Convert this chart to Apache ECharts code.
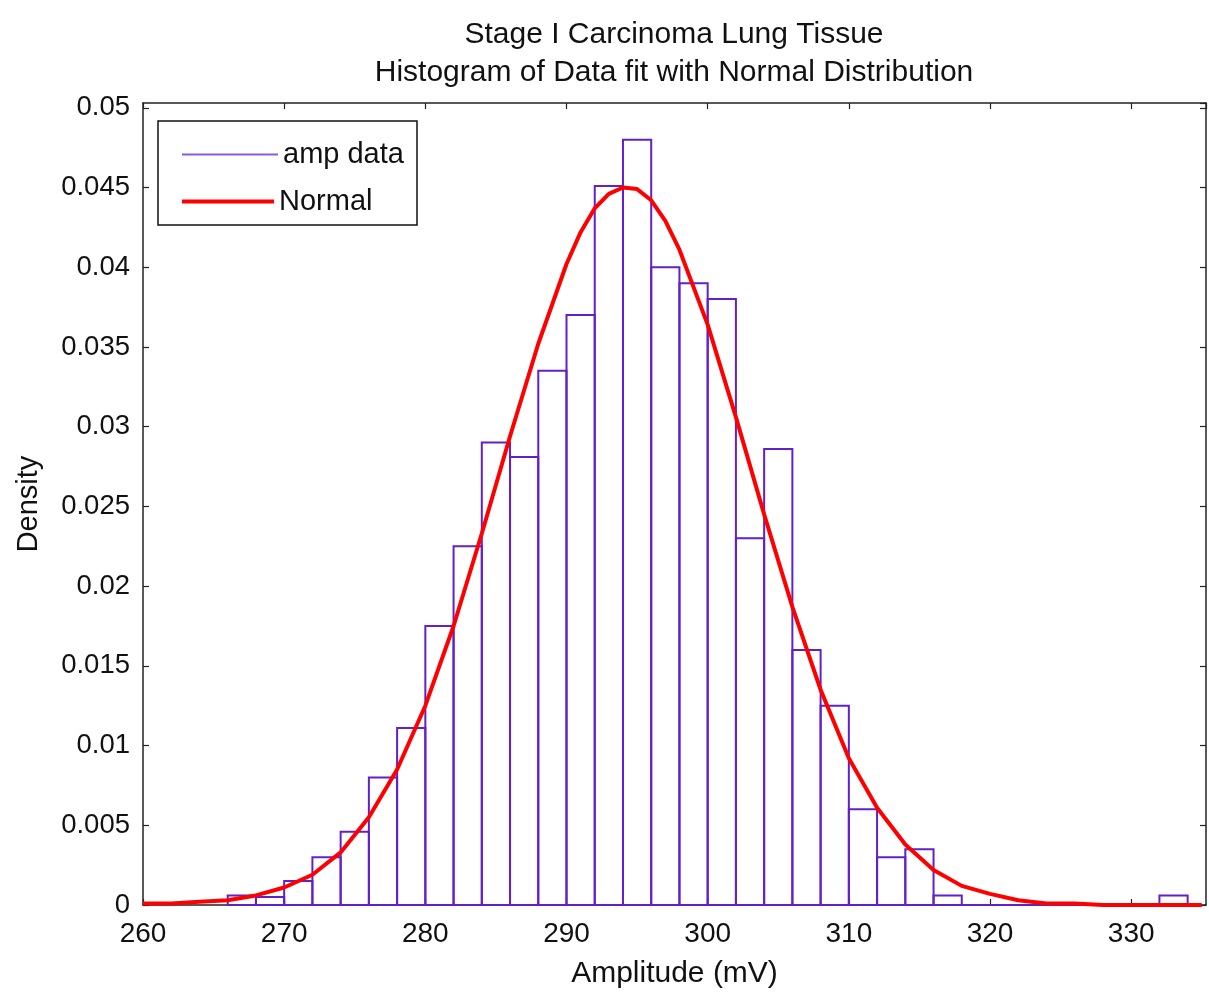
<!DOCTYPE html>
<html>
<head>
<meta charset="utf-8">
<script src="https://cdn.jsdelivr.net/npm/echarts@6/dist/echarts.min.js"></script>
<style>
html,body{margin:0;padding:0;background:#fff;}
#chart{width:1209px;height:994px;}
</style>
</head>
<body>
<div id="chart"></div>
<script>
// Histogram bins (left edge, width 2 mV) and densities
const binLefts = [266,268,270,272,274,276,278,280,282,284,286,288,290,292,294,296,298,300,302,304,306,308,310,312,314,316,318,320,322,324,326,328,330,332];
const binDensity = [0.0006,0.0005,0.0015,0.0030,0.0046,0.0080,0.0111,0.0175,0.0225,0.0290,0.0281,0.0335,0.0370,0.0451,0.0480,0.0400,0.0390,0.0380,0.0230,0.0286,0.0160,0.0125,0.0060,0.0030,0.0035,0.0006,0,0,0,0,0,0,0,0.0006];
const binWidth = 2;

// Normal fit curve
const curveX = [260,262,264,266,268,270,272,274,276,278,280,282,284,286,288,290,291,292,293,294,295,296,297,298,300,302,304,306,308,310,312,314,316,318,320,322,324,326,328,330,332,334,335];
const curveY = [0.0001,0.0001,0.0002,0.0003,0.0006,0.0011,0.0019,0.0033,0.0055,0.0085,0.0125,0.0175,0.0233,0.0294,0.0352,0.0402,0.0422,0.0437,0.0446,0.0450,0.0449,0.0442,0.0429,0.0411,0.0364,0.0306,0.0245,0.0187,0.0135,0.0092,0.0061,0.0038,0.0022,0.0012,0.0007,0.0003,0.0001,0.0001,0,0,0,0,0];

const titleLines = ['Stage I Carcinoma Lung Tissue', 'Histogram of Data fit with Normal Distribution'];
const xName = 'Amplitude (mV)';
const yName = 'Density';
const seriesNames = ['amp data', 'Normal'];

const FONT = '"Liberation Sans", Arial, Helvetica, sans-serif';
const AXIS_COLOR = '#222';
const BAR_COLOR = '#6220c8';

const histData = binLefts.map((x, i) => [x, x + binWidth, binDensity[i]]);
const curveData = curveX.map((x, i) => [x, curveY[i]]);

const chart = echarts.init(document.getElementById('chart'), null, {renderer: 'canvas'});

const xCommon = {
  type: 'value', min: 260, max: 335.3, interval: 10,
  axisLine: {show: true, onZero: false, lineStyle: {color: AXIS_COLOR, width: 1.5}},
  axisTick: {show: true, inside: true, length: 6, lineStyle: {color: AXIS_COLOR, width: 1.2}},
  splitLine: {show: false}
};
const yCommon = {
  type: 'value', min: 0, max: 0.0503, interval: 0.005,
  axisLine: {show: true, onZero: false, lineStyle: {color: AXIS_COLOR, width: 1.5}},
  axisTick: {show: true, inside: true, length: 6, lineStyle: {color: AXIS_COLOR, width: 1.2}},
  splitLine: {show: false}
};

chart.setOption({
  backgroundColor: '#fff',
  animation: false,
  title: {
    text: titleLines.join('\n'),
    left: 669, top: 11, textAlign: 'center',
    textStyle: {fontFamily: FONT, fontSize: 30, fontWeight: 'normal', color: '#111', lineHeight: 38}
  },
  grid: {left: 143, right: 3, top: 103, bottom: 88, containLabel: false},
  legend: [
    {
      data: [{name: seriesNames[0], icon: 'rect', itemStyle: {color: '#8a5ae2'}}],
      left: 177, top: 135, orient: 'vertical',
      itemWidth: 96, itemHeight: 2, itemGap: 0,
      textStyle: {fontFamily: FONT, fontSize: 29, color: '#111'},
      selectedMode: false, z: 10
    },
    {
      data: [{name: seriesNames[1], icon: 'rect', itemStyle: {color: '#ff0000'}}],
      left: 177, top: 182, orient: 'vertical',
      itemWidth: 92, itemHeight: 4, itemGap: 0,
      textStyle: {fontFamily: FONT, fontSize: 29, color: '#111'},
      selectedMode: false, z: 10
    }
  ],
  graphic: [{
    type: 'rect', z: 5,
    shape: {x: 158, y: 121, width: 259, height: 104},
    style: {fill: '#fff', stroke: '#111', lineWidth: 1.5}
  }],
  xAxis: [
    Object.assign({}, xCommon, {
      position: 'bottom',
      name: xName, nameLocation: 'middle', nameGap: 54,
      nameTextStyle: {fontFamily: FONT, fontSize: 30, color: '#111'},
      axisLabel: {show: true, margin: 15, showMaxLabel: false, fontFamily: FONT, fontSize: 28, color: '#111'}
    }),
    Object.assign({}, xCommon, {position: 'top', axisLabel: {show: false}})
  ],
  yAxis: [
    Object.assign({}, yCommon, {
      position: 'left',
      name: yName, nameLocation: 'middle', nameGap: 100, nameRotate: 90,
      nameTextStyle: {fontFamily: FONT, fontSize: 29, color: '#111'},
      axisLabel: {show: true, margin: 13, showMaxLabel: false, fontFamily: FONT, fontSize: 27.5, color: '#111'}
    }),
    Object.assign({}, yCommon, {position: 'right', axisLabel: {show: false}})
  ],
  series: [
    {
      name: seriesNames[0],
      type: 'custom',
      xAxisIndex: 0, yAxisIndex: 0,
      itemStyle: {color: '#8a5ae2'},
      encode: {x: [0, 1], y: 2},
      data: histData,
      z: 2,
      renderItem: function (params, api) {
        const x0 = api.value(0), x1 = api.value(1), h = api.value(2);
        const pTop = api.coord([x0, h]);
        const pBot = api.coord([x1, 0]);
        return {
          type: 'rect',
          shape: {x: pTop[0], y: pTop[1], width: pBot[0] - pTop[0], height: pBot[1] - pTop[1]},
          style: {fill: 'transparent', stroke: BAR_COLOR, lineWidth: 2}
        };
      }
    },
    {
      name: seriesNames[1],
      type: 'line',
      xAxisIndex: 0, yAxisIndex: 0,
      data: curveData,
      showSymbol: false, symbol: 'none', smooth: false,
      lineStyle: {color: '#ff0000', width: 4},
      itemStyle: {color: '#ff0000'},
      z: 3
    }
  ]
});
</script>
</body>
</html>
